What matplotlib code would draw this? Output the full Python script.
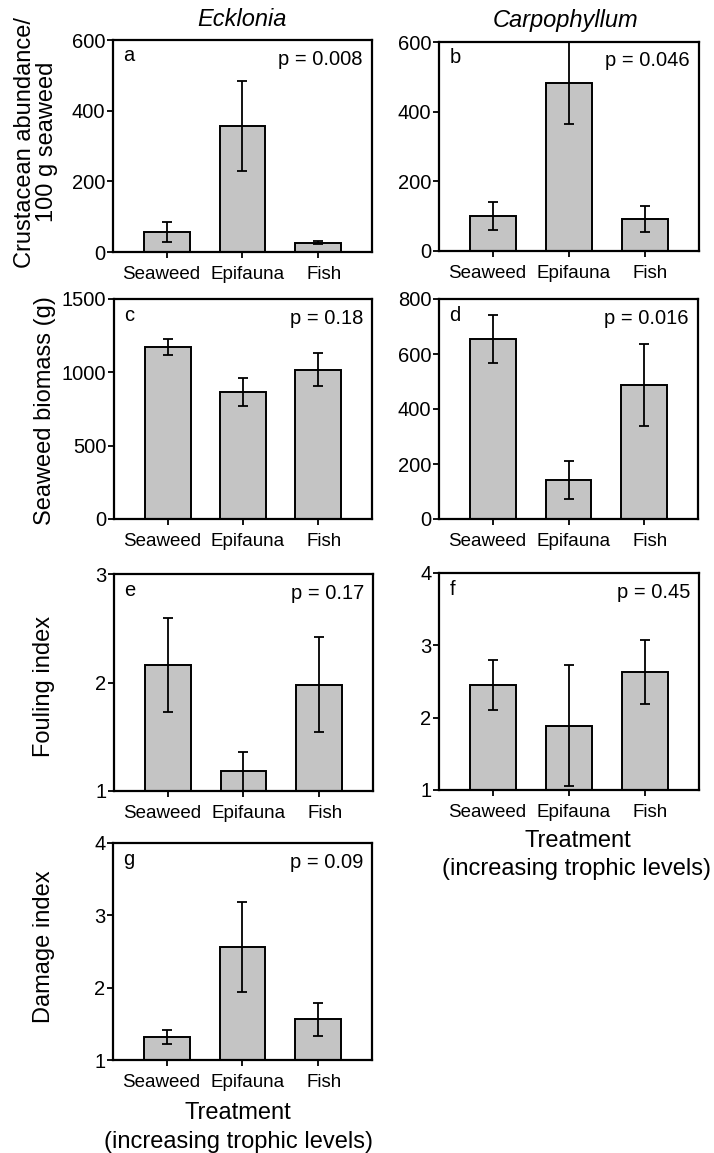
import matplotlib
matplotlib.use("Agg")
import matplotlib.pyplot as plt
import matplotlib.transforms as mtransforms

plt.rcParams["font.family"] = ["Liberation Sans", "DejaVu Sans"]

treatments = ["Seaweed", "Epifauna", "Fish"]

# crustacean abundance / 100 g seaweed
crust_eck = [57, 357, 26]
crust_eck_se = [29, 128, 4]
crust_carp = [101, 482, 91]
crust_carp_se = [40, 118, 37]

# seaweed biomass (g)
biomass_eck = [1173, 866, 1018]
biomass_eck_se = [53, 97, 112]
biomass_carp = [655, 142, 487]
biomass_carp_se = [88, 70, 148]

# fouling index
fouling_eck = [2.16, 1.18, 1.98]
fouling_eck_se = [0.43, 0.18, 0.44]
fouling_carp = [2.45, 1.89, 2.63]
fouling_carp_se = [0.35, 0.84, 0.44]

# damage index
damage_eck = [1.32, 2.56, 1.56]
damage_eck_se = [0.10, 0.62, 0.23]

W, H = 714, 1153
fig = plt.figure(figsize=(W / 100, H / 100), dpi=100)

# the original spreads the three x labels a bit away from their ticks
label_shift = [-6, 5, 6]


def px_axes(x0, y0, x1, y1):
    # pixel box (from top left) -> figure fraction
    return fig.add_axes([x0 / W, 1 - y1 / H, (x1 - x0) / W, (y1 - y0) / H])


def panel(box, vals, se, ylim, yticks, letter, ptext):
    ax = px_axes(*box)
    pos = range(len(vals))
    ax.bar(pos, vals, width=0.61, color="#c4c4c4", edgecolor="black",
           linewidth=1.4, zorder=2)
    ax.errorbar(pos, vals, yerr=se, fmt="none", ecolor="black",
                elinewidth=1.3, capsize=3.8, capthick=1.3, zorder=3)
    ax.set_xlim(-0.72, 2.72)
    ax.set_ylim(*ylim)
    ax.set_yticks(yticks)
    ax.set_xticks(list(pos))
    ax.set_xticklabels(treatments, fontsize=13.5)
    ax.tick_params(axis="y", labelsize=14.5, length=4.5, width=1.3, pad=1)
    ax.tick_params(axis="x", length=4.5, width=1.3, pad=5.5)
    # shift after tick_params, which resets the label transforms
    for tick, dx in zip(ax.xaxis.get_major_ticks(), label_shift):
        lab = tick.label1
        lab.set_transform(lab.get_transform() +
                          mtransforms.ScaledTranslation(dx / 100, 0, fig.dpi_scale_trans))
    for s in ax.spines.values():
        s.set_linewidth(1.6)
    ax.text(0.04, 0.97, letter, transform=ax.transAxes, fontsize=14.5,
            ha="left", va="top")
    ax.text(0.965, 0.91, ptext, transform=ax.transAxes, fontsize=14.5,
            ha="right", va="center")
    return ax


panel((113, 40, 372, 252), crust_eck, crust_eck_se, (0, 600),
      [0, 200, 400, 600], "a", "p = 0.008")
panel((439, 42, 699, 251), crust_carp, crust_carp_se, (0, 600),
      [0, 200, 400, 600], "b", "p = 0.046")
panel((114, 299, 372, 519), biomass_eck, biomass_eck_se, (0, 1500),
      [0, 500, 1000, 1500], "c", "p = 0.18")
panel((439, 299, 698, 519), biomass_carp, biomass_carp_se, (0, 800),
      [0, 200, 400, 600, 800], "d", "p = 0.016")
panel((114, 574, 373, 791), fouling_eck, fouling_eck_se, (1, 3),
      [1, 2, 3], "e", "p = 0.17")
panel((439, 573, 699, 790), fouling_carp, fouling_carp_se, (1, 4),
      [1, 2, 3, 4], "f", "p = 0.45")
panel((113, 843, 372, 1060), damage_eck, damage_eck_se, (1, 4),
      [1, 2, 3, 4], "g", "p = 0.09")


def ftext(x, y, s, **kw):
    fig.text(x / W, 1 - y / H, s, ha="center", va="center", **kw)


# column titles
ftext(242, 20, "Ecklonia", fontsize=17, style="italic")
ftext(566, 20, "Carpophyllum", fontsize=17, style="italic")

# y labels
ftext(36, 142, "Crustacean abundance/\n100 g seaweed", fontsize=17,
      rotation=90, linespacing=1.0)
ftext(45, 411, "Seaweed biomass (g)", fontsize=17, rotation=90)
ftext(44, 686, "Fouling index", fontsize=17, rotation=90)
ftext(44, 947, "Damage index", fontsize=17, rotation=90)

# x labels
ftext(238, 1113, "Treatment", fontsize=17)
ftext(238, 1142, "(increasing trophic levels)", fontsize=17)
ftext(578, 841, "Treatment", fontsize=17)
ftext(577, 869, "(increasing trophic levels)", fontsize=17)

fig.savefig("out.png", dpi=100)
